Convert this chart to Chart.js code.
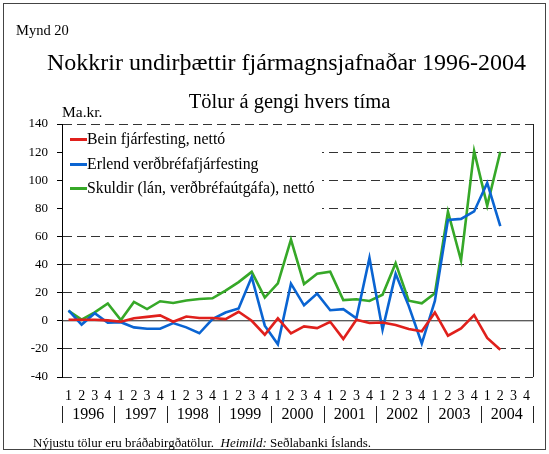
<!DOCTYPE html>
<html>
<head>
<meta charset="utf-8">
<script src="https://cdn.jsdelivr.net/npm/chart.js@4/dist/chart.umd.min.js"></script>
<style>
  body { margin: 0; background: #fff; }
  #wrap { position: relative; width: 549px; height: 454px; font-family: "Liberation Serif", serif; color: #000; }
  #c { position: absolute; left: 0; top: 0; }
  .frame { position: absolute; left: 3px; top: 3px; width: 541px; height: 445px; border: 1px solid #444; pointer-events: none; }
  .txt { position: absolute; white-space: nowrap; }
  #legend { position: absolute; left: 63px; top: 127px; width: 259px; height: 95px; background: #fff; }
  .item { position: relative; height: 24.5px; line-height: 24.5px; font-size: 15.8px; padding-left: 24px; white-space: nowrap; }
  .item span { position: absolute; left: 7px; top: 11px; width: 17px; height: 3px; }
</style>
</head>
<body>
<div id="wrap">
  <canvas id="c" width="549" height="454"></canvas>
  <div class="frame"></div>
  <div class="txt" style="left:16px;top:21px;font-size:14.5px;line-height:18px">Mynd 20</div>
  <div class="txt" style="left:12px;width:549px;text-align:center;top:48px;font-size:24px;line-height:28px">Nokkrir undirþættir fjármagnsjafnaðar 1996-2004</div>
  <div class="txt" style="left:15px;width:549px;text-align:center;top:89px;font-size:20.5px;line-height:24px">Tölur á gengi hvers tíma</div>
  <div class="txt" style="left:62px;top:103px;font-size:15.5px;line-height:18px">Ma.kr.</div>
  <div class="txt" style="left:33px;top:435px;font-size:13px;line-height:16px">Nýjustu tölur eru bráðabirgðatölur.&nbsp; <i>Heimild:</i> Seðlabanki Íslands.</div>
  <div id="legend"></div>
</div>
<script>
const ar = ["1996", "1997", "1998", "1999", "2000", "2001", "2002", "2003", "2004"];
const arsfjordungar = [];
ar.forEach(() => arsfjordungar.push("1", "2", "3", "4"));

const bein = [0.7, 0.7, 0.7, 0.3, -0.7, 1.8, 2.8, 3.8, -0.7, 3.0, 2.0, 2.0, 1.2, 6.4, 0, -9.9, 1.7,
  -8.9, -4, -5.2, -0.7, -12.9, 0.7, -1.6, -1.2, -3, -5.9, -7.5, 5.9, -10.6, -5.4, 4, -12.2, -20.6];
const erlend = [7.4, -2.7, 5.4, -1.4, -1, -4.7, -5.7, -5.7, -1.6, -4.7, -8.9, 1.2, 5.9, 8.7, 31.2, -3.5, -16.7,
  26.4, 11, 19.3, 7.5, 8.3, 1.7, 44.7, -6.3, 33.4, 10.6, -16.2, 14.1, 71.8, 72.5, 77.8, 98.1, 67.3];
const skuldir = [7, 0.8, 6, 12.3, 0.5, 13.4, 8.3, 13.9, 12.7, 14.4, 15.5, 16, 21.5, 27.5, 34.8, 16.5, 26.6,
  57.7, 26.2, 33.4, 34.9, 14.7, 15.3, 14.1, 18.5, 41, 14.3, 12.4, 19.5, 77.6, 42.9, 120.7, 81.9, 120.3];

const radir = [
  { label: "Bein fjárfesting, nettó", data: bein, color: "#e0201c" },
  { label: "Erlend verðbréfafjárfesting", data: erlend, color: "#0a64d2" },
  { label: "Skuldir (lán, verðbréfaútgáfa), nettó", data: skuldir, color: "#36a828" }
];

// legend
const legendEl = document.getElementById("legend");
radir.forEach((r) => {
  const d = document.createElement("div");
  d.className = "item";
  d.innerHTML = '<span style="background:' + r.color + '"></span>' + r.label;
  legendEl.appendChild(d);
});

// zero line, right border, years under the axis
const extras = {
  id: "extras",
  beforeDatasetsDraw(chart) {
    const { ctx, chartArea: a, scales: { y } } = chart;
    const y0 = y.getPixelForValue(0);
    ctx.save();
    ctx.strokeStyle = "#222";
    ctx.lineWidth = 1;
    ctx.beginPath();
    ctx.moveTo(a.left, y0);
    ctx.lineTo(a.right, y0);
    ctx.moveTo(a.right + 0.5, a.top);
    ctx.lineTo(a.right + 0.5, a.bottom);
    ctx.stroke();
    ctx.restore();
  },
  afterDraw(chart) {
    const { ctx, scales: { x } } = chart;
    ctx.save();
    ctx.fillStyle = "#000";
    ctx.strokeStyle = "#222";
    ctx.lineWidth = 1;
    ctx.font = "16px 'Liberation Serif'";
    ctx.textAlign = "center";
    ctx.textBaseline = "middle";
    const half = (x.getPixelForValue(1) - x.getPixelForValue(0)) / 2;
    ar.forEach((yr, i) => {
      const x1 = x.getPixelForValue(i * 4);
      const x2 = x.getPixelForValue(i * 4 + 3);
      ctx.fillText(yr, (x1 + x2) / 2, 415);
      const sx = Math.round(x1 - half) + 0.5;
      ctx.beginPath();
      ctx.moveTo(sx, 406);
      ctx.lineTo(sx, 423);
      ctx.stroke();
      if (i === ar.length - 1) {
        const ex = Math.round(x2 + half) + 0.5;
        ctx.beginPath();
        ctx.moveTo(ex, 406);
        ctx.lineTo(ex, 423);
        ctx.stroke();
      }
    });
    ctx.restore();
  }
};

new Chart(document.getElementById("c").getContext("2d"), {
  type: "line",
  data: {
    labels: arsfjordungar,
    datasets: radir.map((r) => ({
      label: r.label,
      data: r.data,
      borderColor: r.color,
      borderWidth: 2.6,
      pointRadius: 0,
      tension: 0,
      fill: false
    }))
  },
  options: {
    responsive: false,
    animation: false,
    layout: { padding: { left: 0, top: 124, right: 16, bottom: 37 } },
    plugins: { legend: { display: false }, tooltip: { enabled: false } },
    scales: {
      x: {
        offset: true,
        grid: { display: false, drawTicks: false },
        border: { display: false },
        ticks: { color: "#000", padding: 11, maxRotation: 0, autoSkip: false, font: { family: "Liberation Serif", size: 14 } },
        afterFit: (s) => { s.height = 40; }
      },
      y: {
        min: -40,
        max: 140,
        afterFit: (s) => { s.width = 62; },
        ticks: {
          stepSize: 10,
          color: "#000",
          padding: 9,
          font: { family: "Liberation Serif", size: 13 },
          callback: (v) => (v % 20 === 0 ? v : "")
        },
        grid: {
          color: (c) => (c.tick && c.tick.value % 20 === 0 && c.tick.value !== 0 ? "#333" : "rgba(0,0,0,0)"),
          tickColor: "#000",
          tickLength: 5
        },
        border: { display: true, color: "#000", width: 1, dash: [9, 5] }
      }
    }
  },
  plugins: [extras]
});
</script>
</body>
</html>
